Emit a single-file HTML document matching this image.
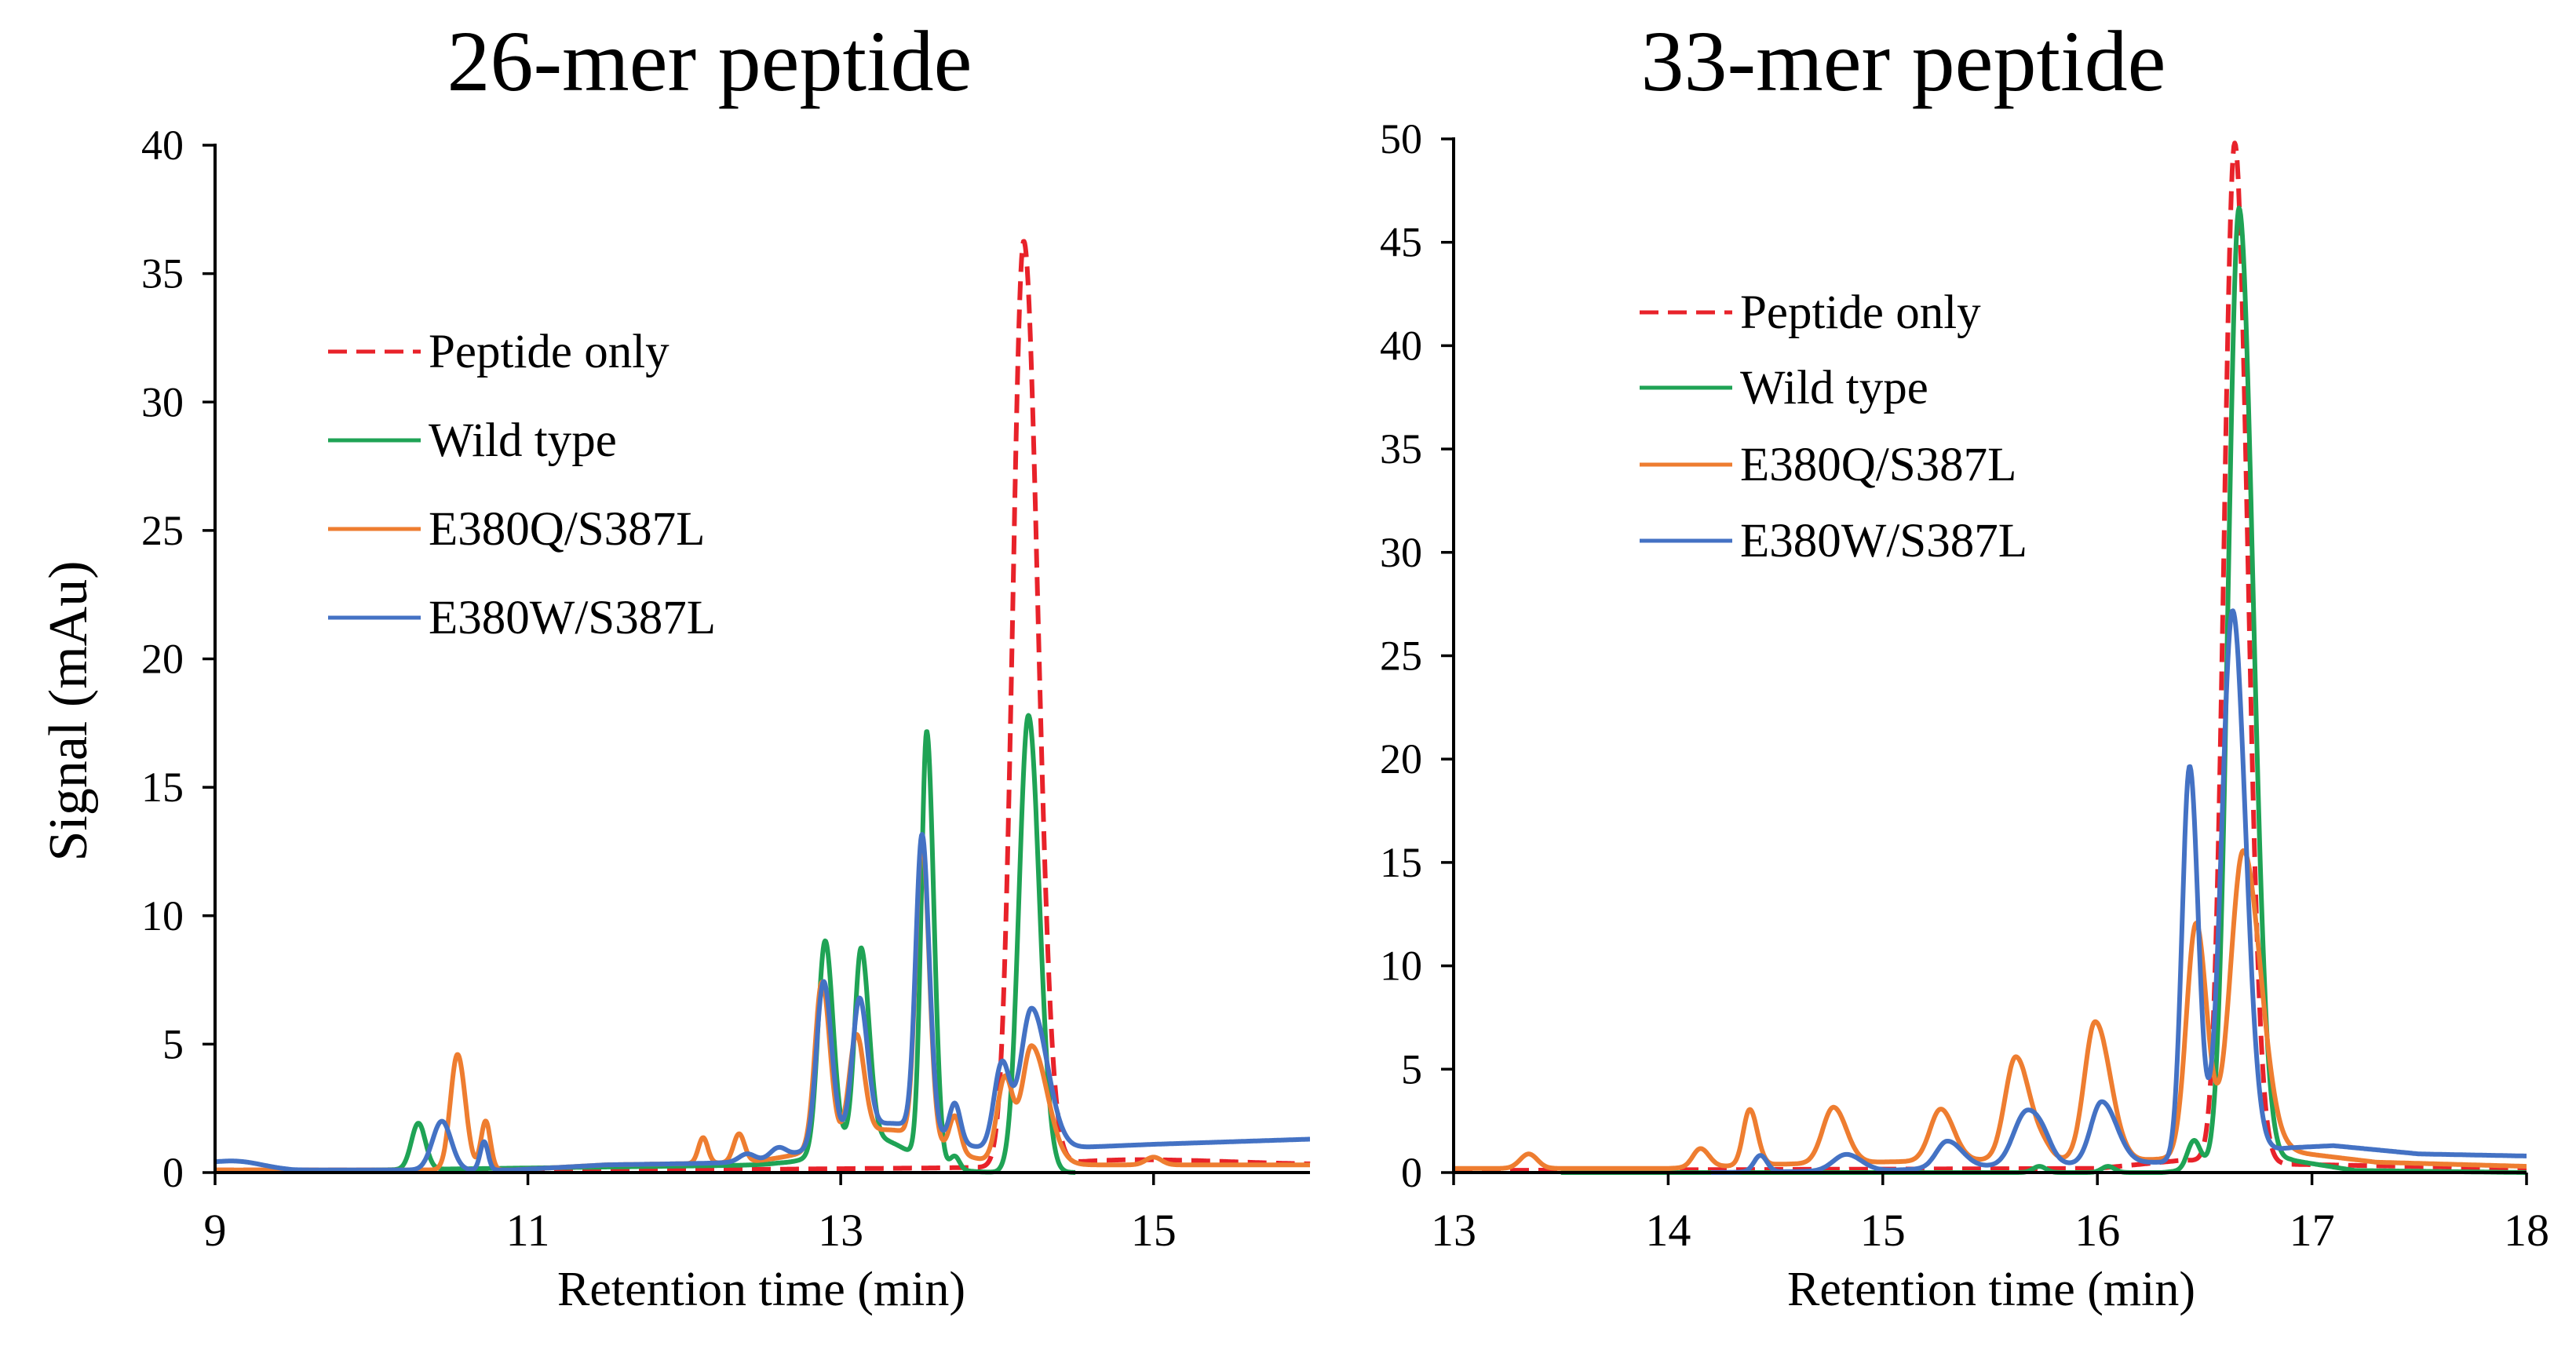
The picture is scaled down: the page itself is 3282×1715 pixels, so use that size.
<!DOCTYPE html>
<html><head><meta charset="utf-8">
<style>
html,body{margin:0;padding:0;background:#fff;}
svg{display:block;font-family:"Liberation Serif",serif;}
</style></head>
<body>
<svg id="fig" width="3282" height="1715" viewBox="0 0 3282 1715" xmlns="http://www.w3.org/2000/svg"></svg>
<script>
// ---------- data: left chart (26-mer) ----------
const leftXTicks = [9, 11, 13, 15];
const leftYTicks = [0, 5, 10, 15, 20, 25, 30, 35, 40];
const seriesNames = ["Peptide only", "Wild type", "E380Q/S387L", "E380W/S387L"];
// peaks: [center(min), height(mAu), sigmaLeft, sigmaRight]
const left26PeptidePeaks = [[14.17, 36.0, 0.07, 0.09], [14.9, 0.2, 0.4, 0.6]];
const left26PeptideBase = [[9.0, 0.1], [12.0, 0.1], [14.0, 0.2], [14.6, 0.3], [16.0, 0.3]];
const left26WildPeaks = [[10.3, 1.8, 0.045, 0.045], [12.9, 8.2, 0.045, 0.05], [13.13, 7.4, 0.04, 0.05], [13.55, 16.7, 0.035, 0.045], [13.73, 0.5, 0.03, 0.03], [14.2, 17.8, 0.06, 0.07], [13.2, 1.3, 0.25, 0.25]];
const left26WildBase = [[10.0, 0.1], [12.6, 0.3], [13.4, 0.0], [14.0, 0.0], [14.5, 0.0]];
const left26QPeaks = [[10.55, 4.5, 0.045, 0.05], [10.73, 1.9, 0.03, 0.03], [12.12, 1.0, 0.03, 0.03], [12.35, 1.1, 0.035, 0.035], [12.88, 6.4, 0.045, 0.05], [13.1, 3.9, 0.045, 0.05], [13.52, 11.6, 0.04, 0.045], [13.73, 1.4, 0.035, 0.035], [14.05, 3.3, 0.05, 0.05], [14.22, 4.6, 0.06, 0.1], [13.3, 1.3, 0.35, 0.3], [15.0, 0.3, 0.05, 0.05]];
const left26QBase = [[9.0, 0.1], [10.9, 0.1], [11.5, 0.3], [12.6, 0.4], [14.6, 0.3], [16.0, 0.3]];
const left26WPeaks = [[9.15, 0.2, 0.15, 0.15], [10.45, 1.9, 0.06, 0.06], [10.72, 1.1, 0.025, 0.025], [12.4, 0.3, 0.05, 0.05], [12.6, 0.4, 0.05, 0.05], [12.89, 6.3, 0.045, 0.05], [13.12, 5.1, 0.045, 0.05], [13.52, 11.5, 0.04, 0.045], [13.73, 1.5, 0.035, 0.035], [14.03, 3.3, 0.05, 0.05], [14.22, 5.5, 0.07, 0.1], [13.3, 1.3, 0.35, 0.3]];
const left26WBase = [[9.0, 0.3], [9.5, 0.1], [10.9, 0.1], [11.5, 0.3], [12.6, 0.4], [14.6, 1.0], [15.0, 1.1], [16.0, 1.3]];

// ---------- data: right chart (33-mer) ----------
const rightXTicks = [13, 14, 15, 16, 17, 18];
const rightYTicks = [0, 5, 10, 15, 20, 25, 30, 35, 40, 45, 50];
const right33PeptidePeaks = [[16.64, 49.3, 0.05, 0.06]];
const right33PeptideBase = [[13.0, 0.1], [16.0, 0.2], [16.4, 0.6], [16.9, 0.4], [18.0, 0.2]];
const right33WildPeaks = [[16.45, 1.4, 0.03, 0.03], [16.66, 46.3, 0.05, 0.065], [15.73, 0.3, 0.03, 0.03], [16.05, 0.3, 0.03, 0.03]];
const right33WildBase = [[13.0, 0.0], [16.3, 0.0], [16.9, 0.6], [17.2, 0.1], [18.0, 0.0]];
const right33QPeaks = [[13.35, 0.7, 0.04, 0.04], [14.15, 0.9, 0.035, 0.04], [14.38, 2.7, 0.03, 0.035], [14.77, 2.7, 0.05, 0.06], [15.27, 2.5, 0.05, 0.06], [15.62, 5.0, 0.05, 0.065], [15.99, 6.7, 0.05, 0.07], [16.46, 11.3, 0.045, 0.05], [16.68, 14.7, 0.06, 0.08], [15.75, 0.5, 0.04, 0.04]];
const right33QBase = [[13.0, 0.2], [14.0, 0.2], [14.5, 0.4], [15.4, 0.6], [16.2, 0.6], [16.9, 1.0], [17.3, 0.5], [18.0, 0.3]];
const right33WPeaks = [[14.43, 0.8, 0.03, 0.03], [14.83, 0.8, 0.06, 0.07], [15.3, 1.3, 0.05, 0.07], [15.67, 2.6, 0.06, 0.07], [16.02, 3.0, 0.05, 0.07], [16.43, 19.0, 0.035, 0.04], [16.63, 26.3, 0.05, 0.06], [15.75, 0.5, 0.04, 0.04]];
const right33WBase = [[14.2, 0.0], [15.0, 0.1], [15.5, 0.3], [16.3, 0.5], [16.9, 1.2], [17.1, 1.3], [17.5, 0.9], [18.0, 0.8]];

const colors = ["#e8222a", "#1fa355", "#ee7d30", "#4472c4"];

// ---------- helpers ----------
const NS = "http://www.w3.org/2000/svg";
const svg = document.getElementById("fig");
function mk(tag, attrs, parent) {
  const e = document.createElementNS(NS, tag);
  for (const k in attrs) e.setAttribute(k, attrs[k]);
  (parent || svg).appendChild(e);
  return e;
}
function baseAt(base, t) {
  if (t <= base[0][0]) return base[0][1];
  for (let i = 1; i < base.length; i++) {
    if (t <= base[i][0]) {
      const a = base[i - 1], b = base[i];
      return a[1] + (b[1] - a[1]) * (t - a[0]) / (b[0] - a[0]);
    }
  }
  return base[base.length - 1][1];
}
function signal(peaks, base, t) {
  let v = baseAt(base, t);
  for (const p of peaks) {
    const s = t < p[0] ? p[2] : p[3];
    v += p[1] * Math.exp(-0.5 * ((t - p[0]) / s) ** 2);
  }
  return v;
}

function drawChart(cfg) {
  const g = mk("g", {});
  
  
  const xs = t => cfg.x0 + (t - cfg.tmin) * (cfg.x1 - cfg.x0) / (cfg.tmax - cfg.tmin);
  const ys = v => cfg.y0 - v * (cfg.y0 - cfg.y1) / cfg.vmax;

  const title = mk("text", {x: cfg.titleX, y: 115, "font-size": 110, "text-anchor": "middle", fill: "#000"}, g);
  title.textContent = cfg.title;
  
  

  cfg.series.forEach((s, i) => {
    let d = "";
    for (let t = s.start; t <= s.end + 1e-9; t += 0.004) {
      const v = Math.max(0, signal(s.peaks, s.base, t));
      d += (d ? "L" : "M") + xs(t).toFixed(1) + "," + ys(v).toFixed(1);
    }
    const p = mk("path", {d: d, fill: "none", stroke: colors[i], "stroke-width": 6, "stroke-linejoin": "round"}, g);
    if (i === 0) p.setAttribute("stroke-dasharray", "24,12");
    
    
  });

  const ax = mk("line", {x1: cfg.x0, y1: cfg.y1 - 2, x2: cfg.x0, y2: cfg.y0 + 2, stroke: "#000", "stroke-width": 4}, g);
  
  
  const axx = mk("line", {x1: cfg.x0 - 2, y1: cfg.y0, x2: cfg.x1, y2: cfg.y0, stroke: "#000", "stroke-width": 4}, g);
  
  

  cfg.yTicks.forEach(v => {
    mk("line", {x1: cfg.x0 - 16, y1: ys(v), x2: cfg.x0, y2: ys(v), stroke: "#000", "stroke-width": 3.5}, g);
    const tl = mk("text", {x: cfg.x0 - 40, y: ys(v) + 18, "font-size": 54, "text-anchor": "end", fill: "#000"}, g);
    tl.textContent = v;
    
    
  });
  cfg.xTicks.forEach(t => {
    mk("line", {x1: xs(t), y1: cfg.y0, x2: xs(t), y2: cfg.y0 + 16, stroke: "#000", "stroke-width": 3.5}, g);
    const tl = mk("text", {x: xs(t), y: cfg.y0 + 93, "font-size": 58, "text-anchor": "middle", fill: "#000"}, g);
    tl.textContent = t;
    
    
  });
  const xt = mk("text", {x: cfg.xTitleX, y: 1663, "font-size": 62, "text-anchor": "middle", fill: "#000"}, g);
  xt.textContent = "Retention time (min)";
  
  

  const lg = mk("g", {}, g);
  
  
  seriesNames.forEach((n, i) => {
    const y = cfg.legY[i];
    const l = mk("line", {x1: cfg.legX, y1: y, x2: cfg.legX + 118, y2: y, stroke: colors[i], "stroke-width": 5}, lg);
    if (i === 0) l.setAttribute("stroke-dasharray", "24,12");
    const tx = mk("text", {x: cfg.legX + 128, y: y + 20, "font-size": 61, fill: "#000"}, lg);
    tx.textContent = n;
    
    
  });
}

drawChart({
  name: "chart-26-mer", title: "26-mer peptide", titleX: 904, xTitleX: 970,
  x0: 274, x1: 1669, tmin: 9, tmax: 16, y0: 1494, y1: 185, vmax: 40,
  xTicks: leftXTicks, yTicks: leftYTicks, legX: 418, legY: [448, 561, 674, 787],
  series: [
    {peaks: left26PeptidePeaks, base: left26PeptideBase, start: 9, end: 16},
    {peaks: left26WildPeaks, base: left26WildBase, start: 10.0, end: 14.5},
    {peaks: left26QPeaks, base: left26QBase, start: 9, end: 16},
    {peaks: left26WPeaks, base: left26WBase, start: 9, end: 16}
  ]
});
drawChart({
  name: "chart-33-mer", title: "33-mer peptide", titleX: 2425, xTitleX: 2537,
  x0: 1852, x1: 3219, tmin: 13, tmax: 18, y0: 1494, y1: 177, vmax: 50,
  xTicks: rightXTicks, yTicks: rightYTicks, legX: 2089, legY: [398, 494, 592, 689],
  series: [
    {peaks: right33PeptidePeaks, base: right33PeptideBase, start: 13, end: 18},
    {peaks: right33WildPeaks, base: right33WildBase, start: 13.5, end: 18},
    {peaks: right33QPeaks, base: right33QBase, start: 13, end: 18},
    {peaks: right33WPeaks, base: right33WBase, start: 14.2, end: 18}
  ]
});

const yl = mk("text", {x: 0, y: 0, "font-size": 70, "text-anchor": "middle", fill: "#000", transform: "translate(110,906) rotate(-90)"});
yl.textContent = "Signal (mAu)";


</script>
</body></html>
